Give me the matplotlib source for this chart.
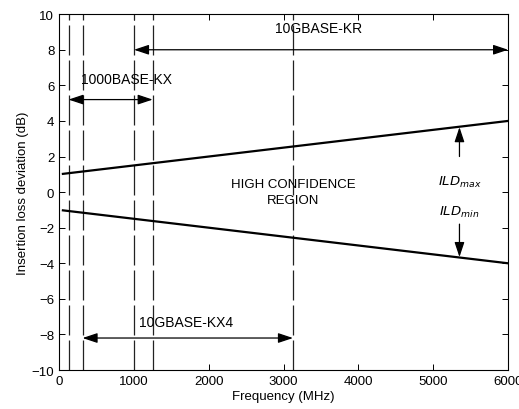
import matplotlib.pyplot as plt

plt.rcParams['font.family'] = ['Liberation Sans', 'DejaVu Sans']

# ILD limit lines (end points)
freq = [50, 6000]
ild_max = [1.025, 4.0]
ild_min = [-1.025, -4.0]

# band edges (MHz)
edges = [125, 312.5, 1000, 1250, 3125]

# bands: (name, f_start, f_stop, arrow y, label x, label y)
bands = [
    ("10GBASE-KR", 1000, 6000, 8.0, 3470, 9.2),
    ("1000BASE-KX", 125, 1250, 5.2, 900, 6.35),
    ("10GBASE-KX4", 312.5, 3125, -8.2, 1700, -7.3),
]

fig = plt.figure(figsize=(5.19, 4.10), dpi=100)
ax = fig.add_axes([0.114, 0.095, 0.865, 0.868])

for f in edges:
    ax.axvline(f, color="#222222", lw=0.9, dashes=(24, 4))

ax.plot(freq, ild_max, color="black", lw=1.6)
ax.plot(freq, ild_min, color="black", lw=1.6)

for name, f0, f1, ya, xt, yt in bands:
    ax.annotate("", xy=(f1, ya), xytext=(f0, ya),
                arrowprops=dict(arrowstyle="<|-|>,head_length=0.9,head_width=0.3",
                                color="black", lw=0.9, shrinkA=0, shrinkB=0))
    ax.text(xt, yt, name, ha="center", va="center", fontsize=10)

ax.text(3125, 0.0, "HIGH CONFIDENCE\nREGION", ha="center", va="center",
        fontsize=9.5, linespacing=1.4)

# ILD arrows
ax.annotate("", xy=(5350, 3.65), xytext=(5350, 2.0),
            arrowprops=dict(arrowstyle="-|>,head_length=0.9,head_width=0.3",
                            color="black", lw=0.9, shrinkA=0, shrinkB=0))
ax.annotate("", xy=(5350, -3.65), xytext=(5350, -1.8),
            arrowprops=dict(arrowstyle="-|>,head_length=0.9,head_width=0.3",
                            color="black", lw=0.9, shrinkA=0, shrinkB=0))
ax.text(5350, 0.6, r"$\mathit{ILD}_{\mathit{max}}$", ha="center", va="center", fontsize=9.5)
ax.text(5350, -1.1, r"$\mathit{ILD}_{\mathit{min}}$", ha="center", va="center", fontsize=9.5)

ax.set_xlim(0, 6000)
ax.set_ylim(-10, 10)
ax.set_xticks(range(0, 6001, 1000))
ax.set_yticks(range(-10, 11, 2))
ax.tick_params(direction="in", top=True, right=True, labelsize=9.5, length=4, width=0.7)
for s in ax.spines.values():
    s.set_linewidth(0.8)
ax.set_xlabel("Frequency (MHz)", fontsize=9.5, labelpad=2)
ax.set_ylabel("Insertion loss deviation (dB)", fontsize=9.5, labelpad=2)

fig.savefig("out.png", dpi=100)
